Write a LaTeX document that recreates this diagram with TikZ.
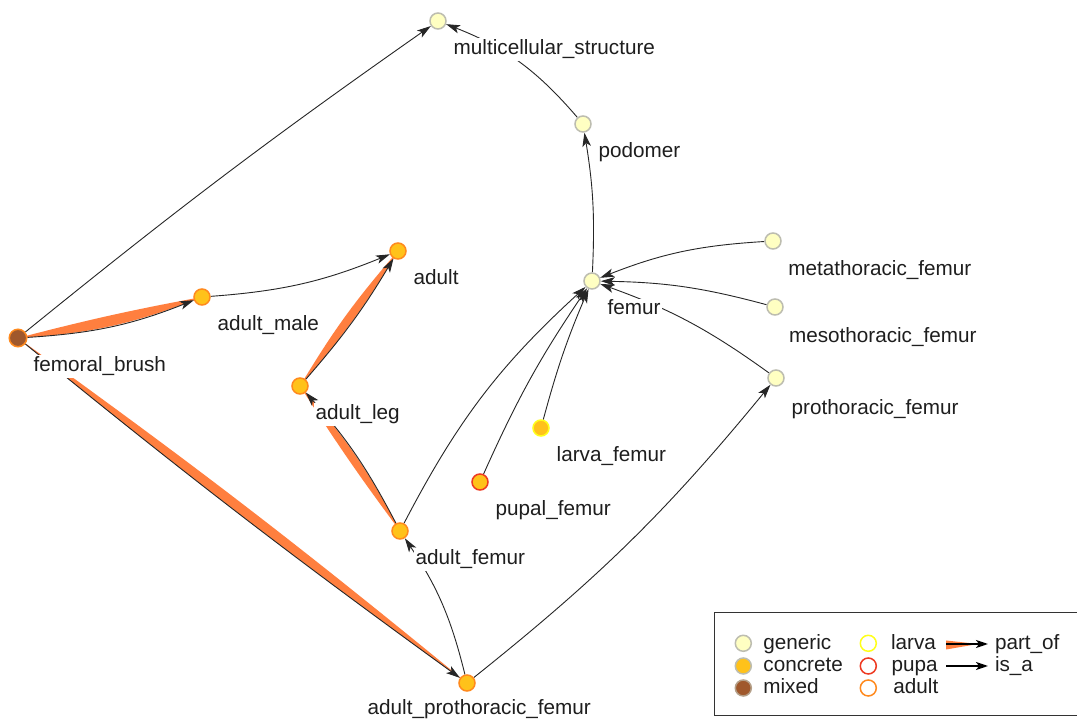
\documentclass[tikz,border=0pt]{standalone}
\usepackage{fontspec}
\setmainfont{Liberation Sans}
\usetikzlibrary{arrows.meta}
\pgfdeclarelayer{bg}
\pgfdeclarelayer{edges}
\pgfsetlayers{bg,edges,main}
\definecolor{genfill}{HTML}{FFFFC2}
\definecolor{genborder}{HTML}{BDBDB0}
\definecolor{concfill}{HTML}{FFC21A}
\definecolor{adultc}{HTML}{FF8A1E}
\definecolor{larvac}{HTML}{FFFF1A}
\definecolor{pupac}{HTML}{EE3A22}
\definecolor{mixfill}{HTML}{A0582C}
\definecolor{partc}{HTML}{FF7F3F}
\definecolor{edgec}{HTML}{262626}
\definecolor{txtc}{HTML}{1E1E1E}
\tikzset{
 vtx/.style={circle, minimum size=16pt, inner sep=0pt, line width=1.5pt},
 generic/.style={vtx, fill=genfill, draw=genborder},
 adultnode/.style={vtx, fill=concfill, draw=adultc},
 larvanode/.style={vtx, fill=concfill, draw=larvac},
 pupanode/.style={vtx, fill=concfill, draw=pupac},
 mixednode/.style={vtx, fill=mixfill, draw=adultc},
 openc/.style={vtx, fill=white},
 lbl/.style={anchor=base west, fill=white, inner sep=1.5pt, text=txtc, font=\fontsize{20.7}{23}\selectfont},
 isa/.style={draw=edgec, line width=0.9pt, -{Stealth[length=14pt,width=8.5pt,inset=3.5pt]}},
 legarrow/.style={draw=black, line width=1.8pt, -{Stealth[length=12pt,width=8pt,inset=3pt]}},
 band/.style={fill=partc, draw=none},
}
\begin{document}
\begin{tikzpicture}[x=1pt,y=1pt]
\useasboundingbox (0,0) rectangle (1077,720);
\begin{pgfonlayer}{bg}
\fill[white] (0,0) rectangle (1077,720);
\end{pgfonlayer}
% nodes
\node[generic] (mcs) at (438,699) {};
\node[generic] (pod) at (583,596) {};
\node[generic] (fem) at (592,439) {};
\node[generic] (meta) at (773,479) {};
\node[generic] (meso) at (775,413) {};
\node[generic] (pro) at (776,342) {};
\node[adultnode] (adult) at (398,469) {};
\node[adultnode] (am) at (202,423) {};
\node[mixednode, minimum size=17.5pt] (fb) at (18,382) {};
\node[adultnode] (al) at (300,334) {};
\node[larvanode] (lf) at (541,292) {};
\node[pupanode] (pf) at (480,238) {};
\node[adultnode] (af) at (400,189) {};
\node[adultnode] (apf) at (467,37) {};
% labels
\node[lbl] (mcsL) at (452,665) {multicellular\_structure};
\node[lbl] (podL) at (597,562) {podomer};
\node[lbl] (femL) at (606,405) {femur};
\node[lbl] (metaL) at (786.7,444) {metathoracic\_femur};
\node[lbl] (mesoL) at (787.3,377) {mesothoracic\_femur};
\node[lbl] (proL) at (790,305) {prothoracic\_femur};
\node[lbl] (adultL) at (412,435) {adult};
\node[lbl] (amL) at (216,389) {adult\_male};
\node[lbl] (fbL) at (32,348) {femoral\_brush};
\node[lbl] (alL) at (314,300) {adult\_leg};
\node[lbl] (lfL) at (555,258) {larva\_femur};
\node[lbl] (pfL) at (494,204) {pupal\_femur};
\node[lbl] (afL) at (414,155) {adult\_femur};
\node[lbl] (apfL) at (366,5) {adult\_prothoracic\_femur};
% edges
\begin{pgfonlayer}{edges}
\fill[band] (fb.center) to[bend left=2] (am.center) to[bend left=9] (fb.center) -- cycle;
\fill[band] (al.center) to[bend left=5] (adult.center) to[bend left=5] (al.center) -- cycle;
\fill[band] (af.center) to[bend left=2] (al.center) to[bend left=7] (af.center) -- cycle;
\fill[band] (fb.center) to[bend left=1.8] (apf.center) to[bend left=1.6] (fb.center) -- cycle;
\draw[isa] (fb) to[bend right=9] (am);
\draw[isa] (al) to[bend right=5] (adult);
\draw[isa] (af) to[bend right=7] (al);
\draw[isa] (fb) to[bend right=1.6] (apf);
\draw[isa] (fb) to[bend left=2] (mcs);
\draw[isa] (pod) to[bend right=14] (mcs);
\draw[isa] (fem) to[bend right=6] (pod);
\draw[isa] (meta) to[bend right=9] (fem);
\draw[isa] (meso) to[bend right=7] (fem);
\draw[isa] (pro) to[bend right=8] (fem);
\draw[isa] (lf) to[bend left=4] (fem);
\draw[isa] (pf) to[bend left=5] (fem);
\draw[isa] (af) to[bend left=10] (fem);
\draw[isa] (am) to[bend right=9] (adult);
\draw[isa] (apf) to[bend right=10] (af);
\draw[isa] (apf) to[bend right=6] (pro);
\end{pgfonlayer}
% legend
\node[draw=black!80, line width=1.3pt, anchor=south west, minimum width=380pt, minimum height=103pt, inner sep=0pt] (legend) at (714,3.5) {};
\node[generic] (lg1) at (743.3,76.7) {};
\node[adultnode, draw=genborder] (lg2) at (743.3,54) {};
\node[mixednode, draw=genborder!70!mixfill] (lg3) at (743.3,32) {};
\node[lbl, fill=none] (lt1) at (761.7,70.7) {generic};
\node[lbl, fill=none] (lt2) at (761.7,48.3) {concrete};
\node[lbl, fill=none] (lt3) at (761.7,26) {mixed};
\node[openc, draw=larvac] (lg4) at (868.3,76.7) {};
\node[openc, draw=pupac] (lg5) at (868.3,54) {};
\node[openc, draw=adultc] (lg6) at (868.3,32) {};
\node[lbl, fill=none] (lt4) at (889.3,70.7) {larva};
\node[lbl, fill=none] (lt5) at (890,48.3) {pupa};
\node[lbl, fill=none] (lt6) at (891.7,26) {adult};
\coordinate (p1) at (946,76);
\coordinate (p2) at (988,76);
\coordinate (q1) at (946,54);
\coordinate (q2) at (988,54);
\fill[band] (946,79.5) -- (946,70.5) -- (978,76) -- cycle;
\draw[legarrow] (p1) -- (p2);
\draw[legarrow] (q1) -- (q2);
\node[lbl, fill=none] (lt7) at (993.3,70.7) {part\_of};
\node[lbl, fill=none] (lt8) at (993.3,48.3) {is\_a};
\end{tikzpicture}
\end{document}
